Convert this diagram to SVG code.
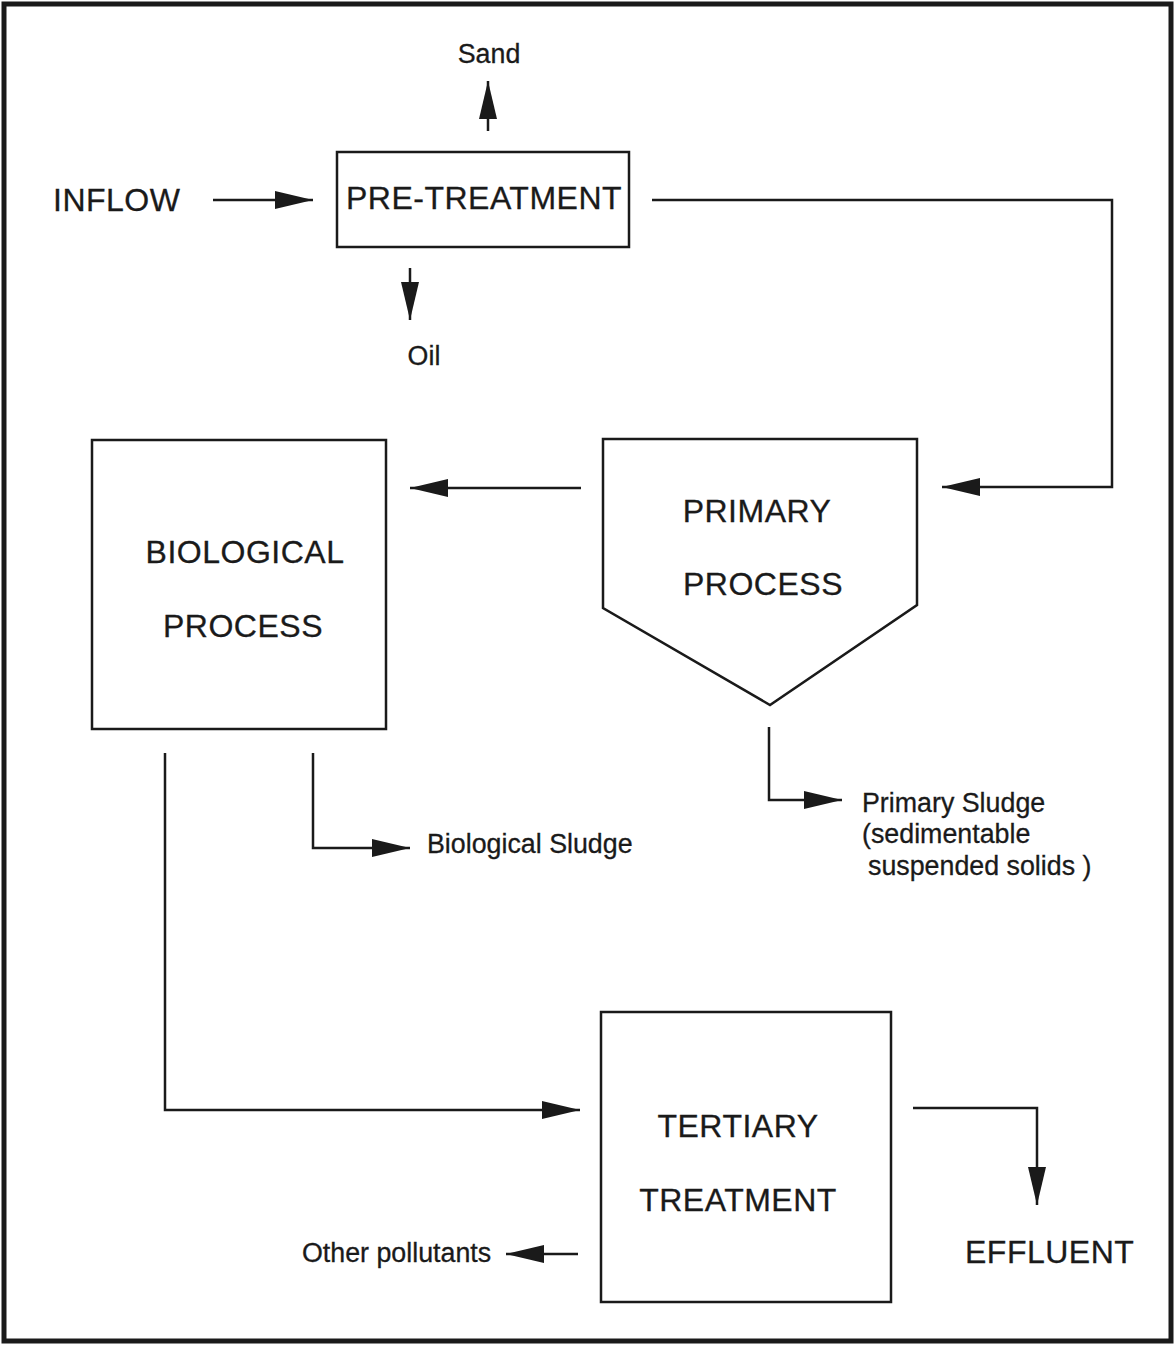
<svg xmlns="http://www.w3.org/2000/svg" width="1176" height="1346" viewBox="0 0 1176 1346">
  <defs>
    <style>
      .box { fill: #fff; stroke: #1a1a1a; stroke-width: 2.5; }
      .conn { fill: none; stroke: #1a1a1a; stroke-width: 2.5; marker-end: url(#head); }
      .big { font-family: "Liberation Sans", Arial, sans-serif; font-size: 32px; letter-spacing: 0.5px; fill: #1a1a1a; stroke: #1a1a1a; stroke-width: 0.3; }
      .small { font-family: "Liberation Sans", Arial, sans-serif; font-size: 26.8px; fill: #1a1a1a; stroke: #1a1a1a; stroke-width: 0.3; }
      .mid { text-anchor: middle; }
    </style>
    <marker id="head" markerUnits="userSpaceOnUse" markerWidth="38" markerHeight="18" refX="38" refY="9" orient="auto">
      <path d="M0,0 L38,9 L0,18 Z" fill="#1a1a1a"/>
    </marker>
  </defs>

  <!-- page frame -->
  <rect x="4" y="4" width="1167" height="1337" fill="#fff" stroke="#1a1a1a" stroke-width="5"/>

  <!-- connectors -->
  <g id="connectors">
    <line class="conn" x1="213" y1="200" x2="313" y2="200"/>
    <line class="conn" x1="488" y1="131" x2="488" y2="81"/>
    <line class="conn" x1="410" y1="268" x2="410" y2="320"/>
    <polyline class="conn" points="652,200 1112,200 1112,487 942,487"/>
    <line class="conn" x1="581" y1="488" x2="410" y2="488"/>
    <polyline class="conn" points="313,753 313,848 410,848"/>
    <polyline class="conn" points="769,727 769,800 842,800"/>
    <polyline class="conn" points="165,753 165,1110 580,1110"/>
    <polyline class="conn" points="913,1108 1037,1108 1037,1205"/>
    <line class="conn" x1="578" y1="1254" x2="506" y2="1254"/>
  </g>

  <!-- nodes -->
  <g id="inflow">
    <text class="big" x="53" y="211">INFLOW</text>
  </g>
  <g id="pre-treatment">
    <rect class="box" x="337" y="152" width="292" height="95"/>
    <text class="big mid" x="484" y="209">PRE-TREATMENT</text>
  </g>
  <g id="sand">
    <text class="small mid" x="489" y="63">Sand</text>
  </g>
  <g id="oil">
    <text class="small mid" x="424" y="365">Oil</text>
  </g>
  <g id="primary-process">
    <polygon class="box" points="603,439 917,439 917,605 770,705 603,608"/>
    <text class="big mid" x="757" y="522">PRIMARY</text>
    <text class="big mid" x="763" y="595">PROCESS</text>
  </g>
  <g id="biological-process">
    <rect class="box" x="92" y="440" width="294" height="289"/>
    <text class="big mid" x="245" y="563">BIOLOGICAL</text>
    <text class="big mid" x="243" y="637">PROCESS</text>
  </g>
  <g id="biological-sludge">
    <text class="small" x="427" y="853">Biological Sludge</text>
  </g>
  <g id="primary-sludge">
    <text class="small" x="862" y="812">Primary Sludge</text>
    <text class="small" x="862" y="843">(sedimentable</text>
    <text class="small" x="868" y="875">suspended solids )</text>
  </g>
  <g id="tertiary-treatment">
    <rect class="box" x="601" y="1012" width="290" height="290"/>
    <text class="big mid" x="738" y="1137">TERTIARY</text>
    <text class="big mid" x="738" y="1211">TREATMENT</text>
  </g>
  <g id="other-pollutants">
    <text class="small" x="302" y="1262">Other pollutants</text>
  </g>
  <g id="effluent">
    <text class="big" x="965" y="1263">EFFLUENT</text>
  </g>
</svg>
